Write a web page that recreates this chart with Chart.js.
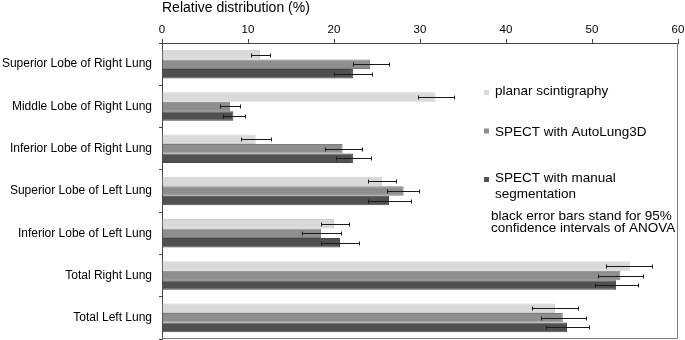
<!DOCTYPE html>
<html>
<head>
<meta charset="utf-8">
<script src="https://cdn.jsdelivr.net/npm/chart.js@4/dist/chart.umd.min.js"></script>
<style>
	html, body { margin: 0; padding: 0; background: #fff; }
	#wrap { width: 685px; height: 340px; position: relative; }
</style>
</head>
<body>
<div id="wrap"><canvas id="lungChart"></canvas></div>
<script>
// categories (top to bottom)
const categories = [
	"Superior Lobe of Right Lung",
	"Middle Lobe of Right Lung",
	"Inferior Lobe of Right Lung",
	"Superior Lobe of Left Lung",
	"Inferior Lobe of Left Lung",
	"Total Right Lung",
	"Total Left Lung",
];

// mean relative distribution (%)
const planar = [11.4, 31.8, 10.9, 25.6, 20.0, 54.4, 45.7];
const autoLung = [24.2, 7.9, 21.0, 28.1, 18.5, 53.3, 46.6];
const manual = [22.2, 8.3, 22.2, 26.4, 20.7, 52.8, 47.1];

// 95% confidence intervals
const planarLow = [10.4, 29.8, 9.2, 24.0, 18.5, 51.6, 43.0];
const planarHigh = [12.5, 33.9, 12.7, 27.2, 21.7, 57.0, 48.4];
const autoLow = [22.2, 6.8, 19.0, 26.2, 16.3, 50.7, 44.1];
const autoHigh = [26.4, 9.1, 23.2, 29.9, 20.8, 55.9, 49.3];
const manualLow = [20.0, 7.1, 20.2, 24.0, 18.5, 50.4, 44.6];
const manualHigh = [24.4, 9.7, 24.3, 28.9, 22.9, 55.4, 49.7];

const seriesNames = ["planar scintigraphy", "SPECT with AutoLung3D", "SPECT with manual segmentation"];
const xTicks = [0, 10, 20, 30, 40, 50, 60];

const fills = ["#d9d9d9", "#8e8e8e", "#505050"];
const edges = ["#cdcdcd", "#7c7c7c", "#454545"];
const errLow = [planarLow, autoLow, manualLow];
const errHigh = [planarHigh, autoHigh, manualHigh];

Chart.defaults.font.family = "Arial, 'Liberation Sans', sans-serif";
Chart.defaults.color = "#000";

// черные отрезки доверительных интервалов
const errorBars = {
	id: "errorBars",
	afterDatasetsDraw(chart) {
		const { ctx } = chart;
		const xs = chart.scales.x;
		ctx.save();
		ctx.strokeStyle = "#1a1a1a";
		ctx.lineWidth = 1;
		chart.data.datasets.forEach((ds, di) => {
			const meta = chart.getDatasetMeta(di);
			meta.data.forEach((bar, i) => {
				const y = Math.round(bar.y) + 0.5;
				const x1 = Math.round(xs.getPixelForValue(errLow[di][i])) + 0.5;
				const x2 = Math.round(xs.getPixelForValue(errHigh[di][i])) + 0.5;
				ctx.beginPath();
				ctx.moveTo(x1, y);
				ctx.lineTo(x2, y);
				ctx.moveTo(x1, y - 2);
				ctx.lineTo(x1, y + 2);
				ctx.moveTo(x2, y - 2);
				ctx.lineTo(x2, y + 2);
				ctx.stroke();
			});
		});
		ctx.restore();
	},
};

// рамка и легенда внутри графика
const frameAndLegend = {
	id: "frameAndLegend",
	afterDraw(chart) {
		const { ctx, chartArea: a } = chart;
		ctx.save();
		ctx.strokeStyle = "#7a7a7a";
		ctx.lineWidth = 1;
		ctx.beginPath();
		ctx.moveTo(a.right - 0.5, a.top);
		ctx.lineTo(a.right - 0.5, a.bottom - 0.5);
		ctx.lineTo(a.left, a.bottom - 0.5);
		ctx.stroke();

		ctx.font = "13.5px Arial, 'Liberation Sans', sans-serif";
		ctx.fillStyle = "#000";
		ctx.textBaseline = "alphabetic";
		ctx.textAlign = "left";

		const items = [
			{ sq: 90, lines: [[seriesNames[0], 94.7]] },
			{ sq: 128.5, lines: [["SPECT with AutoLung3D", 135.7]] },
			{ sq: 177, lines: [["SPECT with manual", 182], ["segmentation", 197.5]] },
		];
		items.forEach((it, i) => {
			ctx.fillStyle = fills[i];
			ctx.fillRect(484, it.sq, 5, 5);
			ctx.fillStyle = "#000";
			it.lines.forEach(([t, y]) => ctx.fillText(t, 495, y));
		});
		ctx.fillText("black error bars stand for 95%", 491, 219.7);
		ctx.fillText("confidence intervals of ANOVA", 491, 231.5);
		ctx.restore();
	},
};

const data = {
	labels: categories,
	datasets: [planar, autoLung, manual].map((vals, i) => ({
		label: seriesNames[i],
		data: vals,
		backgroundColor: fills[i],
		borderColor: edges[i],
		borderWidth: 1,
		categoryPercentage: 0.675,
		barPercentage: 1,
	})),
};

const config = {
	type: "bar",
	data,
	options: {
		indexAxis: "y",
		responsive: true,
		maintainAspectRatio: false,
		animation: false,
		layout: { padding: { left: 0, right: 7, top: 0, bottom: 1 } },
		plugins: {
			legend: { display: false },
			tooltip: { enabled: false },
		},
		scales: {
			x: {
				position: "top",
				min: 0,
				max: 60,
				afterBuildTicks(scale) {
					scale.ticks = xTicks.map((v) => ({ value: v }));
				},
				ticks: { font: { size: 11.5 }, padding: 2, maxRotation: 0 },
				grid: { drawOnChartArea: false, tickLength: 4, color: "#444" },
				border: { color: "#444" },
				title: {
					display: true,
					text: "Relative distribution (%)",
					align: "start",
					font: { size: 14 },
					padding: { top: 0, bottom: 0 },
				},
				afterFit(scale) {
					scale.height = 43;
					scale.paddingLeft = 0;
					scale.paddingRight = 0;
				},
			},
			y: {
				ticks: { font: { size: 12 }, padding: 7 },
				grid: { drawOnChartArea: false, tickLength: 3, offset: true, color: "#444" },
				border: { color: "#444" },
				afterFit(scale) {
					scale.width = 162;
					scale.paddingTop = 0;
					scale.paddingBottom = 0;
				},
			},
		},
	},
	plugins: [errorBars, frameAndLegend],
};

new Chart(document.getElementById("lungChart"), config);
</script>
</body>
</html>
